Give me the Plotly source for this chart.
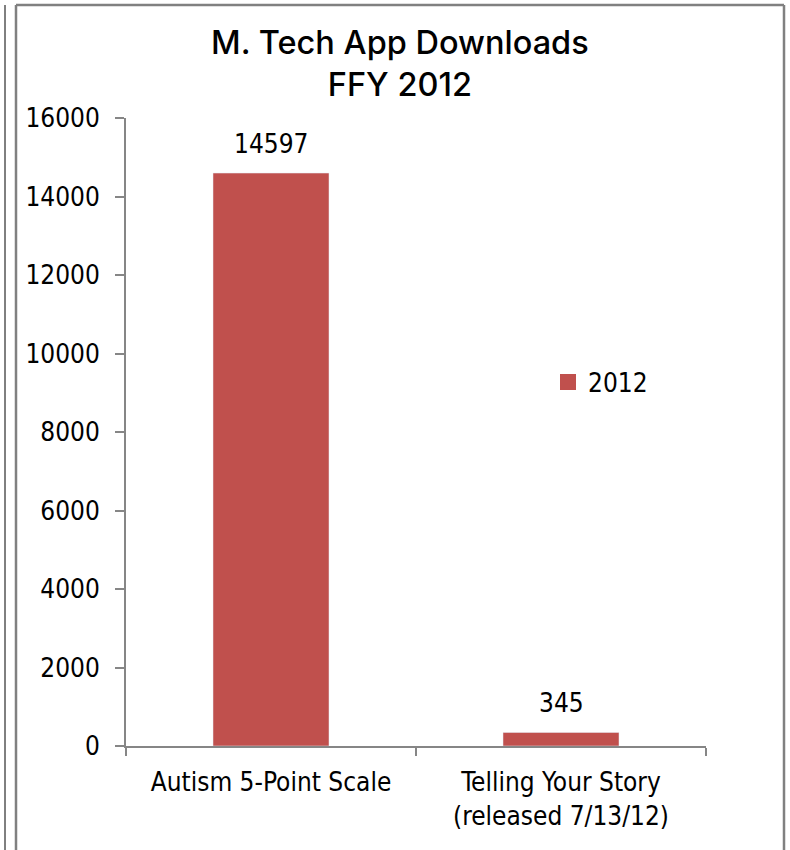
import plotly.graph_objects as go

categories = ["Autism 5-Point Scale", "Telling Your Story<br>(released 7/13/12)"]
values = [14597, 345]
series_name = "2012"
title_text = "M. Tech App Downloads<br>FFY 2012"
y_ticks = [0, 2000, 4000, 6000, 8000, 10000, 12000, 14000, 16000]

FONT = "DejaVu Sans Condensed, Liberation Sans Narrow, Arial Narrow, sans-serif"
TFONT = "Inter, Liberation Sans, sans-serif"
BAR = "#C0504D"
AX = "#868686"

W, H = 790, 850
L, R, T, B = 126, 84, 118, 104
PW, PH = W - L - R, H - T - B


def px(x):
    return (x - L) / PW


def py(y):
    return (H - B - y) / PH


fig = go.Figure()
fig.add_trace(go.Bar(
    x=categories, y=values, name=series_name,
    marker_color=BAR, width=0.4, showlegend=False,
))
# legend entry with a larger square swatch
fig.add_trace(go.Scatter(
    x=[None], y=[None], mode="markers", name=series_name,
    marker=dict(symbol="square", size=16, color=BAR),
))

annotations = [dict(x=c, y=v, text=str(v), xref="x", yref="y",
                    yanchor="middle", yshift=29, showarrow=False,
                    font=dict(size=26, family=FONT, color="#000000"))
               for c, v in zip(categories, values)]
annotations.append(dict(text=title_text, xref="paper", yref="paper",
                        x=px(400), y=py(64), xanchor="center", yanchor="middle",
                        showarrow=False,
                        font=dict(size=32.5, family=TFONT, color="#000000",
                                  weight=500)))

fig.update_layout(
    width=W, height=H,
    margin=dict(l=L, r=R, t=T, b=B, autoexpand=False),
    paper_bgcolor="white", plot_bgcolor="white",
    font=dict(family=FONT, color="#000000", size=26),
    showlegend=True,
    legend=dict(x=px(548), y=py(382), xanchor="left", yanchor="middle",
                font=dict(size=26, family=FONT), bgcolor="rgba(0,0,0,0)",
                itemsizing="trace"),
    annotations=annotations,
)
fig.update_yaxes(range=[0, 16000], tickvals=y_ticks,
                 ticktext=[str(v) for v in y_ticks], showgrid=False,
                 showline=True, linecolor=AX, linewidth=2,
                 ticks="outside", ticklen=9, tickcolor=AX, tickwidth=2,
                 tickfont=dict(size=26, family=FONT), zeroline=False,
                 ticklabelstandoff=10)
fig.update_xaxes(showline=True, linecolor=AX, linewidth=2,
                 ticks="outside", ticklen=8, tickcolor=AX, tickwidth=2,
                 tickson="boundaries", showgrid=False,
                 tickfont=dict(size=26, family=FONT),
                 ticklabelstandoff=12)

# outer frame lines
fig.add_shape(type="line", xref="paper", yref="paper",
              x0=px(16), x1=px(16), y0=py(870), y1=py(5),
              line=dict(color="#808080", width=2.5))
fig.add_shape(type="line", xref="paper", yref="paper",
              x0=px(16), x1=px(784), y0=py(5), y1=py(5),
              line=dict(color="#808080", width=2.5))
fig.add_shape(type="line", xref="paper", yref="paper",
              x0=px(784), x1=px(784), y0=py(870), y1=py(5),
              line=dict(color="#808080", width=2.5))
fig.add_shape(type="line", xref="paper", yref="paper",
              x0=px(5), x1=px(5), y0=py(870), y1=py(5),
              line=dict(color="#000000", width=1))

fig.write_html("out.html", config={"displayModeBar": False},
               post_script="document.body.style.margin='0';")
